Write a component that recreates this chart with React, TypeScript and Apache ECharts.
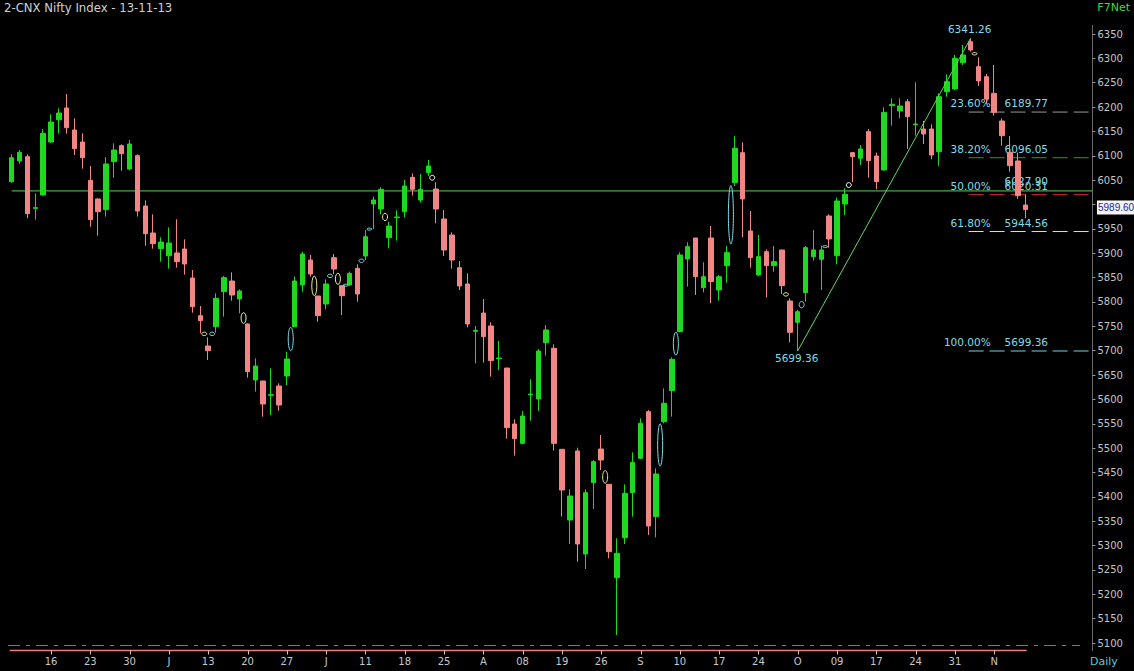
import React, { useEffect, useRef } from "react";
import * as echarts from "echarts";

// ---------- data ----------
const title = "2-CNX Nifty Index - 13-11-13";

const tradingDays: [string, number[]][] = [
  ["2013-05", [9, 10, 13, 14, 15, 16, 17, 20, 21, 22, 23, 24, 27, 28, 29, 30, 31]],
  ["2013-06", [3, 4, 5, 6, 7, 10, 11, 12, 13, 14, 17, 18, 19, 20, 21, 24, 25, 26, 27, 28]],
  ["2013-07", [1, 2, 3, 4, 5, 8, 9, 10, 11, 12, 15, 16, 17, 18, 19, 22, 23, 24, 25, 26, 29, 30, 31]],
  ["2013-08", [1, 2, 5, 6, 7, 8, 12, 13, 14, 16, 19, 20, 21, 22, 23, 26, 27, 28, 29, 30]],
  ["2013-09", [2, 3, 4, 5, 6, 10, 11, 12, 13, 16, 17, 18, 19, 20, 23, 24, 25, 26, 27, 30]],
  ["2013-10", [1, 3, 4, 7, 8, 9, 10, 11, 14, 15, 17, 18, 21, 22, 23, 24, 25, 28, 29, 30, 31]],
  ["2013-11", [1, 3, 4, 6, 7, 8, 11, 12, 13]],
];
const dates: string[] = tradingDays.flatMap(([m, ds]) =>
  ds.map((d) => `${m}-${String(d).padStart(2, "0")}`)
);

// tick labels shown every 5th bar, starting at bar 5
const tickLabels = ["16", "23", "30", "J", "13", "20", "27", "J", "11", "18", "25", "A", "08", "19", "26", "S", "10", "17", "24", "O", "09", "17", "24", "31", "N"];
const firstTickBar = 5;
const tickStep = 5;

// [open, close, low, high]
const ohlc: number[][] = [
  [6046.9, 6096.1, 6044.8, 6103.0], [6089.3, 6107.1, 6083.8, 6111.9], [6098.2, 5981.2, 5971.6, 6103.0],
  [5992.2, 5993.5, 5968.9, 6022.9], [6019.5, 6146.1, 6018.2, 6155.0], [6128.3, 6169.4, 6126.9, 6185.1],
  [6174.1, 6187.8, 6145.4, 6197.4], [6198.1, 6157.7, 6145.4, 6226.8], [6152.9, 6114.6, 6101.6, 6176.9],
  [6128.3, 6096.1, 6073.6, 6146.1], [6049.6, 5968.9, 5954.5, 6079.0], [6011.3, 5985.3, 5936.0, 6012.7],
  [5989.4, 6083.2, 5975.1, 6097.5], [6087.9, 6111.9, 6055.1, 6125.6], [6120.8, 6104.4, 6069.5, 6123.5],
  [6072.9, 6124.2, 6070.2, 6132.4], [6100.3, 5986.7, 5975.1, 6103.0], [5996.9, 5940.2, 5915.5, 6008.6],
  [5941.5, 5919.6, 5909.4, 5979.8], [5909.4, 5923.0, 5882.7, 5932.6], [5895.0, 5921.0, 5868.3, 5953.1],
  [5900.5, 5882.7, 5870.4, 5969.6], [5908.7, 5877.9, 5856.0, 5928.5], [5849.2, 5790.3, 5778.0, 5865.6],
  [5771.8, 5761.6, 5735.6, 5791.7], [5709.6, 5700.0, 5680.9, 5727.4], [5749.3, 5807.4, 5737.0, 5817.7],
  [5821.1, 5849.9, 5769.8, 5853.3], [5843.0, 5814.3, 5802.6, 5860.8], [5806.1, 5822.5, 5776.6, 5825.9],
  [5754.8, 5656.9, 5644.6, 5756.1], [5639.8, 5668.5, 5615.9, 5684.3], [5637.8, 5590.5, 5564.5, 5637.8],
  [5608.3, 5609.7, 5567.9, 5663.8], [5627.5, 5588.5, 5576.9, 5633.0], [5648.0, 5682.9, 5629.5, 5698.0],
  [5749.3, 5843.0, 5747.9, 5851.9], [5834.8, 5898.4, 5821.1, 5903.2], [5886.1, 5857.4, 5851.9, 5896.4],
  [5812.2, 5771.9, 5759.5, 5812.2], [5795.8, 5836.9, 5784.9, 5846.4], [5890.9, 5867.6, 5857.4, 5898.4],
  [5833.4, 5812.9, 5773.2, 5834.8], [5834.8, 5858.8, 5833.4, 5862.2], [5869.0, 5816.3, 5800.6, 5877.2],
  [5894.3, 5934.0, 5886.1, 5947.7], [6001.1, 6009.3, 5949.8, 6016.1], [5990.8, 6031.2, 5979.8, 6035.3],
  [5931.9, 5955.9, 5910.1, 5964.8], [5973.0, 5974.4, 5925.8, 5988.1], [5985.3, 6038.0, 5973.0, 6050.3],
  [6055.8, 6031.2, 6018.2, 6064.0], [6009.3, 6031.2, 6003.8, 6062.6], [6065.4, 6079.1, 6058.5, 6091.4],
  [6031.9, 5990.8, 5961.4, 6045.5], [5970.3, 5906.6, 5894.3, 5988.7], [5937.4, 5886.1, 5868.3, 5942.9],
  [5870.4, 5832.8, 5824.5, 5884.1], [5836.9, 5754.8, 5747.9, 5858.8], [5739.7, 5741.8, 5674.0, 5750.7],
  [5777.3, 5728.8, 5675.4, 5806.1], [5750.7, 5679.5, 5646.7, 5758.2], [5683.6, 5685.0, 5660.3, 5719.9],
  [5664.4, 5542.0, 5519.4, 5664.4], [5549.5, 5519.4, 5484.5, 5559.1], [5509.8, 5565.9, 5508.5, 5576.2],
  [5609.7, 5611.1, 5556.3, 5641.2], [5600.8, 5699.3, 5576.2, 5703.4], [5716.4, 5742.5, 5689.8, 5752.7],
  [5704.8, 5509.8, 5494.8, 5713.0], [5497.5, 5414.0, 5359.3, 5497.5], [5352.4, 5401.7, 5303.2, 5415.4],
  [5494.1, 5303.2, 5266.9, 5500.9], [5282.6, 5408.5, 5251.9, 5415.4], [5429.1, 5472.2, 5375.0, 5475.6],
  [5498.2, 5475.6, 5455.1, 5526.9], [5425.7, 5287.4, 5273.8, 5425.7], [5234.1, 5284.0, 5116.4, 5314.8],
  [5316.2, 5407.2, 5303.2, 5425.7], [5408.6, 5470.8, 5359.3, 5491.4], [5479.0, 5550.9, 5477.0, 5561.1],
  [5574.8, 5340.2, 5321.7, 5578.2], [5359.3, 5446.9, 5316.9, 5458.5], [5554.3, 5592.0, 5550.9, 5622.7],
  [5617.9, 5682.2, 5564.6, 5686.3], [5739.0, 5896.4, 5737.7, 5901.9], [5888.2, 5913.5, 5831.4, 5922.4],
  [5931.3, 5851.9, 5814.3, 5931.3], [5829.3, 5851.9, 5819.8, 5881.4], [5931.3, 5841.7, 5797.2, 5955.9],
  [5824.6, 5851.9, 5802.7, 5855.4], [5874.5, 5901.2, 5839.6, 5914.9], [6044.9, 6115.3, 6038.0, 6140.7],
  [6106.4, 6011.4, 5932.7, 6127.7], [5945.7, 5890.9, 5870.4, 5986.7], [5855.4, 5893.0, 5853.3, 5937.5],
  [5903.2, 5874.5, 5809.5, 5908.0], [5874.5, 5882.7, 5862.2, 5914.9], [5906.7, 5833.5, 5816.4, 5906.7],
  [5802.0, 5737.7, 5717.1, 5807.5], [5758.2, 5780.1, 5699.36, 5783.5], [5819.1, 5911.5, 5800.6, 5914.9],
  [5893.0, 5906.7, 5884.8, 5947.7], [5887.5, 5906.7, 5824.6, 5915.6], [5976.5, 5929.3, 5911.5, 5979.9],
  [5895.0, 6007.3, 5877.3, 6014.1], [6001.1, 6020.9, 5978.5, 6033.3], [6106.5, 6098.3, 6045.6, 6107.8],
  [6094.8, 6114.0, 6081.1, 6122.2], [6149.6, 6090.0, 6055.1, 6155.0], [6099.6, 6046.9, 6031.2, 6106.5],
  [6070.9, 6189.2, 6069.5, 6199.5], [6202.9, 6205.7, 6161.9, 6218.0], [6192.0, 6202.2, 6176.9, 6218.0],
  [6211.1, 6180.3, 6114.0, 6216.6], [6163.9, 6165.3, 6141.3, 6250.8], [6155.0, 6144.8, 6124.2, 6171.4],
  [6155.0, 6101.7, 6092.8, 6164.6], [6108.5, 6221.4, 6079.1, 6228.2], [6231.7, 6252.2, 6221.4, 6267.2],
  [6237.1, 6300.1, 6235.1, 6306.9], [6291.2, 6306.9, 6286.4, 6327.5], [6334.3, 6317.2, 6313.8, 6341.26],
  [6283.0, 6253.6, 6243.3, 6302.1], [6262.5, 6216.6, 6206.3, 6267.9], [6228.2, 6189.2, 6182.4, 6286.4],
  [6171.4, 6141.3, 6120.8, 6176.9], [6107.1, 6079.8, 6067.4, 6140.7], [6089.4, 6018.2, 6011.4, 6106.5],
  [5999.0, 5989.6, 5971.7, 6020.9],
];

// gap markers: [after bar index, price A, price B, kind]
const gaps: [number, number, number, string][] = [
  [24, 5738, 5731, "down"], [25, 5738, 5731, "up"], [29, 5778, 5756, "down"], [35, 5748, 5700, "up"],
  [38, 5853, 5813, "down"], [40, 5857, 5850, "up"], [41, 5859, 5836, "down"], [42, 5836, 5833, "up"],
  [44, 5888, 5881, "up"], [45, 5951, 5948, "up"], [47, 5982, 5967, "down"], [53, 6060, 6050, "mark"],
  [75, 5454, 5428, "down"], [82, 5550, 5463, "up"], [84, 5738, 5691, "up"], [91, 6039, 5919, "up"],
  [98, 5819, 5812, "down"], [100, 5801, 5788, "up"], [103, 5915, 5912, "up"], [106, 6045, 6035, "mark"],
  [122, 6312, 6307, "down"],
];

// Fibonacci retracement from swing low to swing high
const swingLowBar = 100;
const swingLow = 5699.36;
const swingHighBar = 122;
const swingHigh = 6341.26;
const fibPercents = ["23.60%", "38.20%", "50.00%", "61.80%", "100.00%"];
const fibValues = [6189.77, 6096.05, 6020.31, 5944.56, 5699.36];

const hLineValue = 6027.9;
const lastClose = 5989.6;

const yMin = 5100;
const yMax = 6350;
const yStep = 50;
const padBars = 8;

// ---------- styles ----------
const UP = "#1fd81f";
const DOWN = "#f08686";
const CYAN = "#7fdcec";
const fibColors = ["#9a9a9a", "#2e9a2e", "#d02828", "#e8e49a", "#6fd4e4"];
const gapColors: Record<string, string> = { up: "#7fdcec", down: "#f2eea0", mark: "#ffffff" };
const FONT = '"DejaVu Sans", Verdana, sans-serif';

const BAR = 7.86;
const LEFT = 7.77;
const AXIS_Y = 650.5;

function buildOption(): any {
  const catMain = [...dates, ...Array(padBars).fill("")];
  const isTick = (i: number) => i >= firstTickBar && (i - firstTickBar) % tickStep === 0;
  const barX = (i: number) => LEFT + (i + 0.5) * BAR;
  const tickGraphics = tickLabels.map((_t, k) => {
    const x = Math.round(barX(firstTickBar + k * tickStep)) + 0.5;
    return { type: "line", shape: { x1: x, y1: AXIS_Y, x2: x, y2: AXIS_Y + 4 }, style: { stroke: "#c8c8c8", lineWidth: 1 } };
  });
  return {
    animation: false,
    backgroundColor: "#000",
    grid: [
      { left: LEFT, top: 34, width: BAR * catMain.length, height: 609 },
      { left: LEFT, top: 600, width: BAR * dates.length, height: 51 },
    ],
    xAxis: [
      { type: "category", gridIndex: 0, data: catMain, show: false },
      {
        type: "category",
        gridIndex: 1,
        data: dates,
        axisLine: { show: false },
        axisTick: { show: false },
        axisLabel: {
          interval: (i: number) => isTick(i),
          formatter: (_v: string, i: number) => (isTick(i) ? tickLabels[(i - firstTickBar) / tickStep] ?? "" : ""),
          color: "#c8c8c8",
          fontSize: 10,
          fontFamily: FONT,
          margin: 5,
        },
        splitLine: { show: false },
      },
    ],
    yAxis: [
      {
        type: "value",
        gridIndex: 0,
        position: "right",
        min: yMin,
        max: yMax,
        interval: yStep,
        axisLine: { show: false },
        axisTick: { show: true, length: 3, lineStyle: { color: "#9a9a9a" } },
        axisLabel: {
          color: "#c4c4c4",
          fontSize: 10,
          fontFamily: FONT,
          margin: 5,
          formatter: (v: number) => (Math.abs(v - lastClose) < 25 ? "" : String(v)),
        },
        splitLine: { show: false },
      },
      { type: "value", gridIndex: 1, show: false, min: 0, max: 1 },
    ],
    graphic: {
      elements: [
        { type: "text", left: 4, top: 2, style: { text: title, fill: "#d0d0d0", font: `11.7px ${FONT}` } },
        { type: "text", right: 4, top: 2, style: { text: "F7Net", fill: "#3fdc3f", font: `11px ${FONT}` } },
        { type: "text", left: 1090, top: 656, style: { text: "Daily", fill: "#5cc8dc", font: `11px ${FONT}` } },
        { type: "line", shape: { x1: 1092.5, y1: 25, x2: 1092.5, y2: 651 }, style: { stroke: "#6a6a6a", lineWidth: 1 } },
        { type: "line", shape: { x1: 8, y1: 645.5, x2: 1080, y2: 645.5 }, style: { stroke: "#7a7a7a", lineWidth: 1, lineDash: [12, 6, 4, 6] } },
        { type: "rect", shape: { x: barX(0) - 2, y: AXIS_Y - 0.75, width: barX(dates.length - 1) - barX(0) + 3, height: 1.5 }, style: { fill: "#f08080" } },
        ...tickGraphics,
      ],
    },
    series: [
      {
        name: "hline",
        type: "custom",
        xAxisIndex: 0,
        yAxisIndex: 0,
        z: 1,
        data: [[0, hLineValue]],
        renderItem: (params: any, api: any) => {
          const p = api.coord([api.value(0), api.value(1)]);
          const a = api.coord([swingHighBar, api.value(1)]);
          const right = params.coordSys.x + params.coordSys.width;
          return {
            type: "group",
            children: [
              { type: "line", shape: { x1: p[0], y1: p[1], x2: right, y2: p[1] }, style: { stroke: "#4fd84f", lineWidth: 1 } },
              { type: "text", x: a[0] + 34, y: p[1] - 10, style: { text: hLineValue.toFixed(2), fill: CYAN, font: `10.5px ${FONT}`, align: "left", verticalAlign: "middle" } },
            ],
          };
        },
      },
      {
        name: "fib",
        type: "custom",
        xAxisIndex: 0,
        yAxisIndex: 0,
        z: 1,
        data: fibValues.map((v) => [swingHighBar, v]),
        renderItem: (params: any, api: any) => {
          const k = params.dataIndex;
          const p = api.coord([api.value(0), api.value(1)]);
          const right = params.coordSys.x + params.coordSys.width;
          return {
            type: "group",
            children: [
              { type: "line", shape: { x1: p[0] - 2, y1: p[1], x2: right, y2: p[1] }, style: { stroke: fibColors[k], lineWidth: 1, lineDash: [15, 6] } },
              { type: "text", x: p[0] + 20, y: p[1] - 9, style: { text: fibPercents[k], fill: CYAN, font: `10.5px ${FONT}`, align: "right", verticalAlign: "middle" } },
              { type: "text", x: p[0] + 34, y: p[1] - 9, style: { text: fibValues[k].toFixed(2), fill: CYAN, font: `10.5px ${FONT}`, align: "left", verticalAlign: "middle" } },
            ],
          };
        },
      },
      {
        name: "trend",
        type: "custom",
        xAxisIndex: 0,
        yAxisIndex: 0,
        z: 4,
        data: [[swingLowBar, swingLow, swingHighBar, swingHigh]],
        renderItem: (_params: any, api: any) => {
          const a = api.coord([api.value(0), api.value(1)]);
          const b = api.coord([api.value(2), api.value(3)]);
          return {
            type: "group",
            children: [
              { type: "line", shape: { x1: a[0], y1: a[1], x2: b[0], y2: b[1] }, style: { stroke: "#5ad85a", lineWidth: 1 } },
              { type: "text", x: a[0] - 1, y: a[1] + 7, style: { text: swingLow.toFixed(2), fill: CYAN, font: `10.5px ${FONT}`, align: "center", verticalAlign: "middle" } },
              { type: "text", x: b[0] - 1, y: b[1] - 9.5, style: { text: swingHigh.toFixed(2), fill: CYAN, font: `10.5px ${FONT}`, align: "center", verticalAlign: "middle" } },
            ],
          };
        },
      },
      {
        name: "Nifty",
        type: "candlestick",
        xAxisIndex: 0,
        yAxisIndex: 0,
        z: 3,
        clip: false,
        barWidth: 5,
        data: ohlc,
        itemStyle: { color: UP, color0: DOWN, borderColor: UP, borderColor0: DOWN, borderWidth: 1 },
      },
      {
        name: "gaps",
        type: "custom",
        xAxisIndex: 0,
        yAxisIndex: 0,
        z: 5,
        data: gaps.map((g) => [g[0], g[1], g[2]]),
        renderItem: (params: any, api: any) => {
          const i = api.value(0);
          const a = api.coord([i, api.value(1)]);
          const b = api.coord([i + 1, api.value(2)]);
          const cx = (a[0] + b[0]) / 2;
          const cy = (a[1] + b[1]) / 2;
          const ry = Math.max(Math.abs(a[1] - b[1]) / 2, 1);
          return {
            type: "ellipse",
            shape: { cx, cy, rx: 2.5, ry },
            style: { fill: "none", stroke: gapColors[gaps[params.dataIndex][3]], lineWidth: 1 },
          };
        },
      },
      {
        name: "lastPrice",
        type: "custom",
        xAxisIndex: 0,
        yAxisIndex: 0,
        z: 6,
        data: [[dates.length - 1, lastClose]],
        renderItem: (params: any, api: any) => {
          const p = api.coord([api.value(0), api.value(1)]);
          const right = params.coordSys.x + params.coordSys.width;
          return {
            type: "group",
            children: [
              { type: "rect", shape: { x: right + 4.5, y: p[1] - 9, width: 40, height: 14 }, style: { fill: "#f4f4f4" } },
              { type: "text", x: right + 5.5, y: p[1] - 2, style: { text: lastClose.toFixed(2), fill: "#1c1ca0", font: '10px "Liberation Sans", Arial, sans-serif', align: "left", verticalAlign: "middle" } },
            ],
          };
        },
      },
    ],
  };
}

export default function App() {
  const ref = useRef<HTMLDivElement>(null);
  useEffect(() => {
    if (!ref.current) return;
    const chart = echarts.init(ref.current, null, { renderer: "svg" });
    chart.setOption(buildOption());
    return () => chart.dispose();
  }, []);
  return (
    <div
      ref={ref}
      style={{ position: "fixed", left: 0, top: 0, width: 1134, height: 671, background: "#000" }}
    />
  );
}
